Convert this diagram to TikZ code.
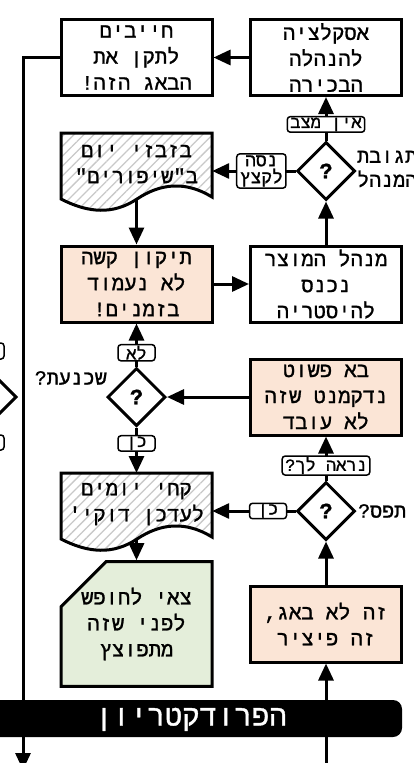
\documentclass[tikz,border=0pt]{standalone}
\usepackage{fontspec}
\setmainfont[Script=Hebrew,Ligatures=TeXOff,FakeBold=1.2]{Liberation Mono}
\usetikzlibrary{arrows.meta,shapes.geometric,shapes.misc,patterns.meta}
\TeXXeTstate=1
\newcommand{\rl}[1]{\beginR #1\endR}% Parameter: one line of Hebrew
\newcommand{\drawdocument}[3]{% Parameters: name, top left corner, text
  \begin{scope}[shift={(#2)}]
    \draw[line width=3pt,pattern={Lines[angle=45,distance=7pt,line width=1.3pt]},pattern color=Hatch]
      (0,0) -- (151,0) -- (151,64) .. controls (125,48) and (100,50) .. (76,66)
      .. controls (52,82) and (27,80) .. (0,66) -- cycle;
    \coordinate (#1-head) at (75.5,0);
    \coordinate (#1-foot) at (75.5,66);
    \node[doctext] (#1) at (75.5,31) {#3};
  \end{scope}
}
\definecolor{Peach}{RGB}{251,229,214}
\definecolor{Sage}{RGB}{228,238,218}
\definecolor{Hatch}{RGB}{200,200,200}

\tikzset{
  stepbox/.style={draw,line width=3pt,fill=white,minimum width=151pt,minimum height=76pt,
    inner sep=0pt,align=center,font=\fontsize{20.5}{26}\selectfont},
  hotbox/.style={stepbox,fill=Peach},
  doctext/.style={minimum width=151pt,inner sep=0pt,align=center,font=\fontsize{20.5}{26}\selectfont},
  ask/.style={diamond,draw,line width=3pt,fill=white,minimum width=58pt,minimum height=58pt,
    inner sep=0pt,font=\fontsize{22}{22}\selectfont\bfseries},
  tag/.style={draw,line width=1.5pt,rounded corners=3pt,fill=white,inner xsep=3pt,inner ysep=1pt,
    minimum width=37pt,minimum height=12pt,font=\fontsize{17}{17}\selectfont},
  tagpair/.style={draw,line width=1.5pt,rounded corners=3pt,fill=white,inner xsep=3pt,inner ysep=1.5pt,
    align=center,font=\fontsize{18}{17}\selectfont},
  side/.style={inner sep=0pt,font=\fontsize{20}{24}\selectfont},
  flow/.style={line width=3pt,-{Triangle[length=17pt,width=15pt]}}
}

\begin{document}
\begin{tikzpicture}[x=1pt,y=-1pt]
  \useasboundingbox (0,0) rectangle (414,763);
  \clip (0,0) rectangle (414,763);
  % the next column only shows its edge
  \draw[line width=3pt,fill=white] (16,397) -- (-14,427) -- (-44,397) -- (-14,367) -- cycle;
  \draw[line width=1.5pt,rounded corners=3pt,fill=white] (-40,343) rectangle (4,359);
  \draw[line width=1.5pt,rounded corners=3pt,fill=white] (-40,435) rectangle (4,450);

  % top row
  \node[stepbox] (mustfix) at (136.5,57.5) {\rl{חייבים}\\\rl{לתקן את}\\\rl{הבאג הזה!}};
  \node[stepbox] (escalate) at (326,57.5) {\rl{אסקלציה}\\\rl{להנהלה}\\\rl{הבכירה}};
  \node[ask] (reaction) at (326,171) {?};
  \node[side,anchor=west,align=right] (reactwhy) at (357,169) {\rl{תגובת}\\\rl{המנהל}};
  \drawdocument{wasteday}{61,133}{\rl{בזבזי יום}\\\rl{ב"שיפורים"}}

  % middle row
  \node[hotbox] (hardfix) at (136.5,284) {\rl{תיקון קשה}\\\rl{לא נעמוד}\\\rl{בזמנים!}};
  \node[stepbox] (hysteria) at (326,284) {\rl{מנהל המוצר}\\\rl{נכנס}\\\rl{להיסטריה}};
  \node[ask] (convinced) at (136.5,397) {?};
  \node[side,anchor=east] (convwhy) at (107,378) {\rl{שכנעת?}};
  \node[hotbox] (brokendoc) at (326,397) {\rl{בא פשוט}\\\rl{נדקמנט שזה}\\\rl{לא עובד}};

  % lower row
  \drawdocument{dailies}{61,473}{\rl{קחי יומים}\\\rl{לעדכן דוקי'}}
  \node[ask] (caught) at (326,511) {?};
  \node[side,anchor=west] (caughtwhy) at (358,511) {\rl{תפס?}};
  \node[stepbox,fill=Sage,chamfered rectangle,chamfered rectangle corners=north west,
    chamfered rectangle xsep=19pt,chamfered rectangle ysep=26pt] (vacation) at (136.5,624)
    {\rl{צאי לחופש}\\\rl{לפני שזה}\\\rl{מתפוצץ}};
  \node[hotbox] (feature) at (326,624) {\rl{זה לא באג,}\\\rl{זה פיציר}};
  \coordinate (exit) at (23,770);
  \coordinate (entry) at (326,770);

  % connectors
  \draw[flow] (escalate.west) -- (mustfix.east);
  \draw[flow] (mustfix.west) -| (exit);
  \draw[flow] (reaction.north) -- node[tag,pos=0.37] {\rl{אין מצב}} (escalate.south);
  \draw[flow] (reaction.west) -- node[tagpair,pos=0.41] {\rl{נסה}\\\rl{לקצץ}} (reaction.west -| wasteday.east);
  \draw[flow] (wasteday-foot) -- (hardfix.north);
  \draw[flow] (hardfix.east) -- (hysteria.west);
  \draw[flow] (hysteria.north) -- (reaction.south);
  \draw[flow] (brokendoc.west) -- (convinced.east);
  \draw[flow] (convinced.north) -- node[tag,pos=0.32] {\rl{לא}} (hardfix.south);
  \draw[flow] (convinced.south) -- node[tag,pos=0.35] {\rl{כן}} (dailies-head);
  \draw[flow] (caught.west) -- node[tag,pos=0.33] {\rl{כן}} (caught.west -| dailies.east);
  \draw[flow] (caught.north) -- node[tag,pos=0.34] {\rl{נראה לך?}} (brokendoc.south);
  \draw[flow] (feature.north) -- (caught.south);
  \draw[flow] (dailies-foot) -- (vacation.north);
  \draw[flow] (entry) -- (feature.south);

  % banner over the two long lines
  \node[fill=black,rounded corners=9pt,minimum width=422pt,minimum height=37pt,inner sep=0pt,
    text height=14pt,text depth=0pt,text=white,font=\fontsize{29}{29}\selectfont] (production)
    at (191,718.5) {\rl{הפרודקטריון}};
\end{tikzpicture}
\end{document}
